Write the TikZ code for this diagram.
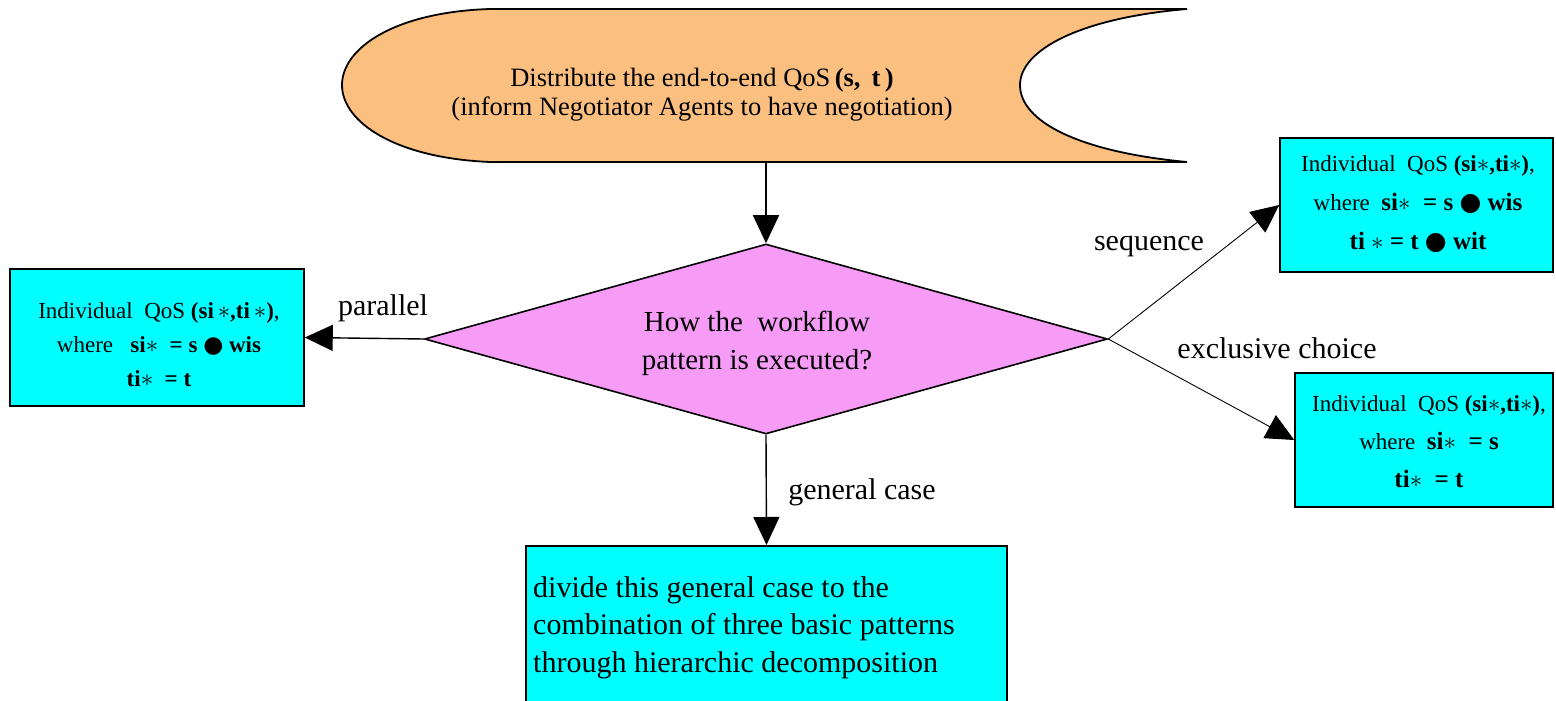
\documentclass[tikz,border=0pt]{standalone}
\usepackage{fontspec}
\setmainfont{Liberation Serif}
\newfontfamily\dv{DejaVu Sans}
\usetikzlibrary{shapes.geometric,arrows.meta}
\definecolor{topfill}{RGB}{251,192,128}
\definecolor{diafill}{RGB}{246,156,246}
\definecolor{boxfill}{RGB}{0,255,255}
\newcommand{\st}{\ensuremath{\ast}}
\newcommand{\bul}{{\dv\char"25CF}}
\tikzset{
  qbox/.style={draw=black, line width=1.5pt, fill=boxfill, inner sep=0pt},
  conn/.style={line width=1.4pt, -{Triangle[length=28pt,width=26pt]}},
  thinconn/.style={line width=0.9pt, -{Triangle[length=28pt,width=26pt]}},
  lbl/.style={font=\fontsize{30}{34}\selectfont, inner sep=0pt},
  boxtxt/.style={align=center, inner sep=0pt, font=\fontsize{23}{34}\selectfont},
}
\begin{document}
\begin{tikzpicture}[x=1pt,y=-1pt]
\useasboundingbox (0,0) rectangle (1556,701);
\fill[white] (0,0) rectangle (1556,701);

% top terminal shape
\draw[line width=1.8pt, fill=topfill] (490,9) -- (1187,9)
  .. controls (1080,18) and (1020,50) .. (1020,85)
  .. controls (1020,122) and (1080,152) .. (1187,162) -- (490,162)
  .. controls (395,158) and (342,122) .. (342,85)
  .. controls (342,48) and (395,12) .. (490,9) -- cycle;
\node[align=center, inner sep=0pt, font=\fontsize{26.5}{29}\selectfont] (toptext) at (702,95)
  {Distribute the end-to-end QoS\,\textbf{(s,\ \,t\,)}\\(inform Negotiator Agents to have negotiation)};
\coordinate (topb) at (766,162);

% decision
\node[diamond, draw=black, line width=1.6pt, fill=diafill, minimum width=683pt, minimum height=190pt, inner sep=0pt] (dia) at (766,339) {};
\node[align=center, inner sep=0pt, font=\fontsize{29}{38}\selectfont] (diatext) at (757,343)
  {How the \ workflow\\pattern is executed?};

% boxes
\node[qbox, minimum width=294pt, minimum height=137pt] (lb) at (157,337.5) {};
\node[boxtxt] (lbt) at (159,345)
  {Individual\ \ QoS \textbf{(si\,\st,ti\,\st)},\\
   where\ \ \ \textbf{si\st\ \ = s \bul\ wis}\\
   \textbf{ti\st\ \ = t}};

\node[qbox, minimum width=273pt, minimum height=134pt] (tr) at (1416.5,205) {};
\node[boxtxt, font=\fontsize{23}{39}\selectfont] (trt) at (1418,204)
  {Individual\ \ QoS \textbf{(si\st,ti\st)},\\
   where\ \ \textbf{\fontsize{25}{39}\selectfont si\st\ \ = s \bul\ wis}\\
   \textbf{\fontsize{25}{39}\selectfont ti \st\ = t \bul\ wit}};

\node[qbox, minimum width=258pt, minimum height=134pt] (br) at (1424,440) {};
\node[boxtxt, font=\fontsize{23}{38}\selectfont] (brt) at (1429,442)
  {Individual\ \ QoS \textbf{(si\st,ti\st)},\\
   where\ \ \textbf{\fontsize{25}{38}\selectfont si\st\ \ = s}\\
   \textbf{\fontsize{25}{38}\selectfont ti\st\ \ = t}};

\node[qbox, minimum width=481pt, minimum height=170pt, anchor=north] (bot) at (766.5,545) {};
\node[align=left, anchor=north west, inner sep=0pt, font=\fontsize{30}{37.5}\selectfont] (bott) at (533,576)
  {divide this general case to the\\combination of three basic patterns\\through hierarchic decomposition};

% connectors
\draw[conn] (topb) -- (dia.north);
\draw[conn] (dia.west) -- (lb.east);
\draw[thinconn] (dia.east) -- (tr.west);
\draw[thinconn] (dia.east) -- (br.west);
\draw[conn] (dia.south) -- (bot.north);

% labels
\node[lbl] (lpar) at (383,308) {parallel};
\node[lbl] (lseq) at (1149,246) {sequence};
\node[lbl] (lexc) at (1277,348) {exclusive choice};
\node[lbl] (lgen) at (862,492) {general case};
\end{tikzpicture}
\end{document}
